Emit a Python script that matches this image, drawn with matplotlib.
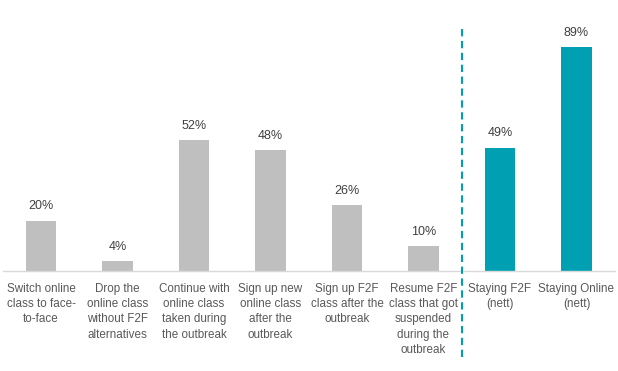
import matplotlib
matplotlib.use('Agg')
from matplotlib import pyplot as plt

categories = [
    'Switch online\nclass to face-\nto-face',
    'Drop the\nonline class\nwithout F2F\nalternatives',
    'Continue with\nonline class\ntaken during\nthe outbreak',
    'Sign up new\nonline class\nafter the\noutbreak',
    'Sign up F2F\nclass after the\noutbreak',
    'Resume F2F\nclass that got\nsuspended\nduring the\noutbreak',
    'Staying F2F\n(nett)',
    'Staying Online\n(nett)',
]
values = [20, 4, 52, 48, 26, 10, 49, 89]
is_nett = [False, False, False, False, False, False, True, True]

GREY = '#bfbfbf'
TEAL = '#00a0b3'
TEXT = '#595959'

plt.rcParams['font.family'] = ['Liberation Sans', 'DejaVu Sans']

fig = plt.figure(figsize=(6.18, 3.71), dpi=100, facecolor='white')
ax = fig.add_axes([0.0045, 0.2695, 0.9902, 0.6793])

x = list(range(len(values)))
colors = [TEAL if n else GREY for n in is_nett]
ax.bar(x, values, width=0.4, color=colors, zorder=2)

for xi, v in zip(x, values):
    ax.text(xi, v + 5.6, f'{v}%', ha='center', va='center', fontsize=9, color='#404040')

for xi, lab in zip(x, categories):
    ax.text(xi, -4.6, lab, ha='center', va='top', fontsize=8.4, color=TEXT,
            linespacing=1.37)

# separator between individual answers and nett figures
ax.plot([5.5, 5.5], [-34, 97], color=TEAL, linewidth=1.5, linestyle=(0, (3.5, 2.2)),
        clip_on=False, zorder=3)

ax.set_xlim(-0.5, 7.5)
ax.set_ylim(0, 100)
for side in ['top', 'left', 'right']:
    ax.spines[side].set_visible(False)
ax.spines['bottom'].set_color('#d9d9d9')
ax.spines['bottom'].set_linewidth(1)
ax.set_xticks([])
ax.set_yticks([])

fig.savefig('out.png', dpi=100, facecolor='white')
